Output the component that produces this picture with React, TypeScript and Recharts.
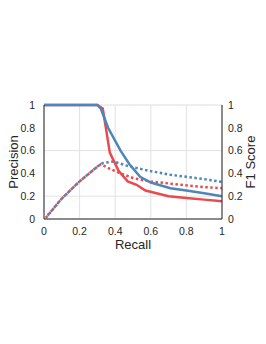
import React from 'react';
import { LineChart, Line, XAxis, YAxis, CartesianGrid } from 'recharts';

const majorTicks = [0, 0.2, 0.4, 0.6, 0.8, 1];
const minorTicks = [0, 0.05, 0.1, 0.15, 0.2, 0.25, 0.3, 0.35, 0.4, 0.45, 0.5, 0.55, 0.6, 0.65, 0.7, 0.75, 0.8, 0.85, 0.9, 0.95, 1];

const bluePrecRecall = [0, 0.1, 0.2, 0.3, 0.32, 0.36, 0.43, 0.48, 0.54, 0.6, 0.71, 0.8, 0.9, 1];
const bluePrec = [1, 1, 1, 1, 0.965, 0.8, 0.6, 0.48, 0.37, 0.32, 0.27, 0.25, 0.225, 0.2];

const redPrecRecall = [0, 0.1, 0.2, 0.3, 0.33, 0.37, 0.42, 0.47, 0.52, 0.57, 0.7, 0.8, 0.9, 1];
const redPrec = [1, 1, 1, 1, 0.97, 0.58, 0.42, 0.33, 0.3, 0.25, 0.2, 0.185, 0.17, 0.155];

const blueF1Recall = [0.02, 0.1, 0.2, 0.3, 0.33, 0.39, 0.46, 0.54, 0.6, 0.7, 0.8, 0.9, 1];
const blueF1 = [0.03, 0.18, 0.33, 0.46, 0.49, 0.505, 0.47, 0.44, 0.42, 0.39, 0.37, 0.35, 0.325];

const redF1Recall = [0.01, 0.1, 0.2, 0.3, 0.32, 0.37, 0.43, 0.5, 0.54, 0.6, 0.71, 0.8, 0.9, 1];
const redF1 = [0.01, 0.18, 0.33, 0.46, 0.48, 0.44, 0.4, 0.36, 0.345, 0.33, 0.31, 0.295, 0.28, 0.27];

const toPts = (xs: number[], ys: number[]) => xs.map((x, i) => ({ x, y: ys[i] }));

const RED = '#E84A4E';
const BLUE = '#4D86B8';
const AXIS = '#262626';
const FONT = 'Liberation Sans, Arial, sans-serif';
const fmt = (v: number) => String(Math.round(v * 10) / 10);

export default function App() {
  const tickStyle = { fontSize: 10.5, fill: AXIS, fontFamily: FONT };
  return (
    <div style={{ position: 'absolute', left: 0, top: 0, width: 266, height: 344, background: '#fff' }}>
      <LineChart width={266} height={344} margin={{ top: 105, right: 14, bottom: 105, left: 14 }}>
        <XAxis xAxisId="minor" type="number" dataKey="x" domain={[0, 1]} ticks={minorTicks} hide />
        <YAxis yAxisId="minor" type="number" domain={[0, 1]} ticks={minorTicks} hide />
        <CartesianGrid xAxisId="minor" yAxisId="minor" stroke="#efefef" strokeDasharray="2 1" />
        <XAxis
          xAxisId="main"
          type="number"
          dataKey="x"
          domain={[0, 1]}
          ticks={majorTicks}
          tickFormatter={fmt}
          height={20}
          stroke={AXIS}
          tick={tickStyle}
          tickLine={false}
          tickMargin={3}
          label={{ value: 'Recall', position: 'center', dy: 15, fontSize: 13, fill: AXIS, fontFamily: FONT }}
        />
        <YAxis
          yAxisId="left"
          type="number"
          domain={[0, 1]}
          ticks={majorTicks}
          tickFormatter={fmt}
          width={30}
          stroke={AXIS}
          tick={tickStyle}
          tickLine={false}
          tickMargin={3}
          label={{ value: 'Precision', angle: -90, position: 'center', dx: -16, fontSize: 13, fill: AXIS, fontFamily: FONT }}
        />
        <YAxis
          yAxisId="right"
          orientation="right"
          type="number"
          domain={[0, 1]}
          ticks={majorTicks}
          tickFormatter={fmt}
          width={30}
          stroke={AXIS}
          tick={tickStyle}
          tickLine={false}
          tickMargin={0}
          label={{ value: 'F1 Score', angle: -90, position: 'center', dx: 13, fontSize: 13, fill: AXIS, fontFamily: FONT }}
        />
        <CartesianGrid xAxisId="main" yAxisId="left" stroke="#e2e2e2" />
        <Line xAxisId="main" yAxisId="right" data={toPts(redF1Recall, redF1)} dataKey="y" stroke={RED} strokeWidth={2.5} strokeDasharray="2.5 2.5" dot={false} isAnimationActive={false} />
        <Line xAxisId="main" yAxisId="right" data={toPts(blueF1Recall, blueF1)} dataKey="y" stroke={BLUE} strokeWidth={2.5} strokeDasharray="2.5 2.5" dot={false} isAnimationActive={false} />
        <Line xAxisId="main" yAxisId="left" data={toPts(redPrecRecall, redPrec)} dataKey="y" stroke={RED} strokeWidth={2.5} dot={false} isAnimationActive={false} />
        <Line xAxisId="main" yAxisId="left" data={toPts(bluePrecRecall, bluePrec)} dataKey="y" stroke={BLUE} strokeWidth={2.5} dot={false} isAnimationActive={false} />
      </LineChart>
    </div>
  );
}
